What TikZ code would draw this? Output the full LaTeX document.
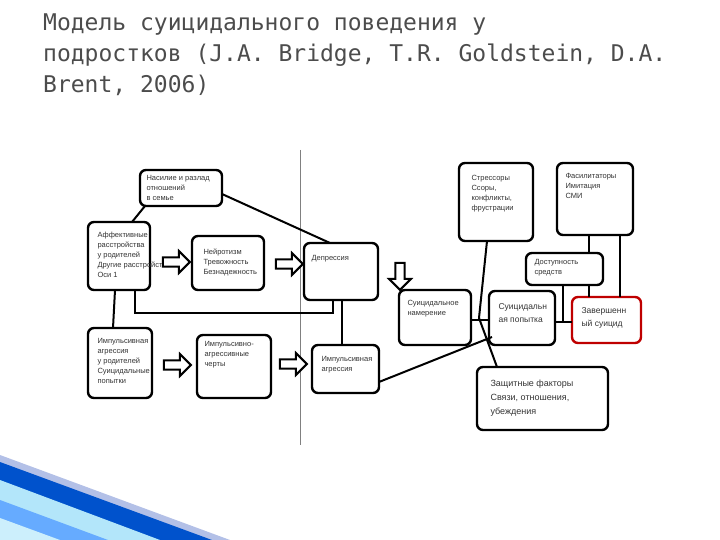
\documentclass[tikz,border=0pt]{standalone}
\usepackage{fontspec}
\setmainfont{Liberation Sans}
\newfontfamily\titlefont{DejaVu Sans Mono}
\usetikzlibrary{shapes.arrows}
\begin{document}
\begin{tikzpicture}[x=1pt,y=-1pt,
 bx/.style={draw,line width=2.4pt,rounded corners=6pt,inner sep=0pt},
 tx/.style={anchor=north west,font=\fontsize{7.5}{10}\selectfont,align=left,text=black!80},
 ln/.style={line width=2pt},
 barr/.style={single arrow,draw,line width=2pt,minimum height=27pt,minimum width=22pt,single arrow head extend=4pt,inner sep=2pt,fill=white}]
\useasboundingbox (0,0) rectangle (720,540);
% decoration
\fill[cyan!40!blue!30] (0,455) -- (230,540) -- (0,540) -- cycle;
\fill[blue!60!cyan!80!black] (0,462) -- (212,540) -- (0,540) -- cycle;
\fill[cyan!30!white] (0,480) -- (160,540) -- (0,540) -- cycle;
\fill[blue!55!cyan!60] (0,500) -- (108,540) -- (0,540) -- cycle;
\fill[cyan!20!white] (0,518) -- (60,540) -- (0,540) -- cycle;
% title
\node[anchor=north west,align=left,inner sep=0pt,text=black!70,font=\titlefont\fontsize{23}{31}\selectfont] (title) at (43,14) {Модель суицидального поведения у\\подростков (J.A. Bridge, T.R. Goldstein, D.A.\\Brent, 2006)};
% grey line
\draw[black!50,line width=0.8pt] (300,150) -- (300,445);
% boxes
\draw[bx] (140,170) rectangle (222,206);
\node[tx] (t1) at (143,172) {Насилие и разлад\\отношений\\в семье};
\draw[bx] (88,222) rectangle (150,290);
\node[tx] (t2) at (94,229) {Аффективные\\расстройства\\у родителей\\Другие расстройства\\Оси 1};
\draw[bx] (192,236) rectangle (264,290);
\node[tx] (t3) at (200,245) {Нейротизм\\Тревожность\\Безнадежность};
\draw[bx] (304,243) rectangle (378,300);
\node[tx] (t4) at (308,252) {Депрессия};
\draw[bx] (88,328) rectangle (152,398);
\node[tx] (t5) at (94,335) {Импульсивная\\агрессия\\ у родителей\\Суицидальные\\попытки};
\draw[bx] (197,335) rectangle (271,398);
\node[tx] (t6) at (201,338) {Импульсивно-\\агрессивные\\черты};
\draw[bx] (312,345) rectangle (379,393);
\node[tx] (t7) at (318,353) {Импульсивная\\агрессия};
\draw[bx] (459,163) rectangle (533,241);
\node[tx] (t8) at (468,172) {Стрессоры\\Ссоры,\\конфликты,\\фрустрации};
\draw[bx] (557,163) rectangle (633,235);
\node[tx] (t9) at (562,170) {Фасилитаторы\\Имитация\\ СМИ};
\draw[bx,fill=white] (526,253) rectangle (603,285);
\node[tx] (t10) at (531,256) {Доступность\\средств\\};
\draw[bx] (399,290) rectangle (471,345);
\node[tx] (t11) at (404,297) {Суицидальное\\намерение};
\draw[bx] (489,291) rectangle (555,345);
\node[tx,font=\fontsize{8.5}{13}\selectfont] (t12) at (495,300) {Суицидальн\\ая попытка};
\draw[bx,draw=red!75!black] (572,297) rectangle (641,343);
\node[tx,font=\fontsize{8.5}{13}\selectfont] (t13) at (578,304) {Завершенн\\ый суицид};
\draw[bx] (477,367) rectangle (608,430);
\node[tx,font=\fontsize{9}{14}\selectfont] (t14) at (487,376) {Защитные факторы\\Связи, отношения,\\убеждения};
% connectors
\draw[ln] (145,206) -- (132,222);
\draw[ln] (222,194) -- (330,243);
\draw[ln] (115,290) -- (113,328);
\draw[ln] (135,290) -- (135,313) -- (333,313) -- (333,300);
\draw[ln] (342,300) -- (342,345);
\draw[ln] (471,320) -- (489,320);
\draw[ln] (379,382) -- (492,337);
\draw[ln] (487,241) -- (479,318) coordinate (c1) -- (497,367);
\draw[ln] (589,235) -- (589,253);
\draw[ln] (620,235) -- (620,297);
\draw[ln] (589,285) -- (589,297);
\draw[ln] (563,285) -- (563,322);
\draw[ln] (555,322) -- (572,322);
% block arrows
\node[barr] (a1) at (174,262) {};
\node[barr] (a2) at (287,264) {};
\node[barr,rotate=-90] (a3) at (400,274) {};
\node[barr] (a4) at (175,365) {};
\node[barr] (a5) at (291,364) {};
\end{tikzpicture}
\end{document}
